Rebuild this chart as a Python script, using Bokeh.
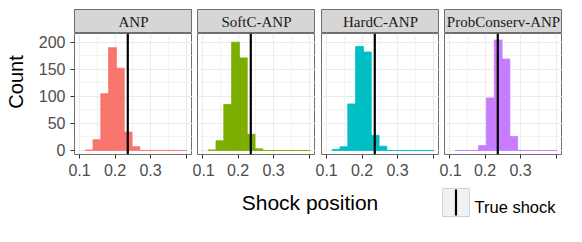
import math
from bokeh.plotting import figure
from bokeh.models import Range1d, FixedTicker, Span, ColumnDataSource
from bokeh.layouts import row, column
from bokeh.embed import file_html
from bokeh.resources import INLINE
from bokeh.core.properties import value

# ---------------- data ----------------
MODELS = ["ANP", "SoftC-ANP", "HardC-ANP", "ProbConserv-ANP"]
COLORS = ["#F8766D", "#7CAE00", "#00BFC4", "#C77CFF"]
BIN_EDGES = [0.116, 0.138, 0.160, 0.182, 0.204, 0.226, 0.248,
             0.270, 0.292, 0.314, 0.336, 0.358, 0.380, 0.402]
COUNTS_ANP = [1, 20, 105, 190, 152, 34, 7, 0, 0, 0, 0, 0, 0]
COUNTS_SOFTC = [1, 18, 85, 200, 171, 30, 3, 0, 0, 0, 0, 0, 0]
COUNTS_HARDC = [2, 7, 86, 192, 182, 28, 8, 0, 0, 0, 0, 0, 0]
COUNTS_PROB = [0, 0, 0, 9, 97, 204, 169, 26, 0, 0, 0, 0, 0]
COUNTS = [COUNTS_ANP, COUNTS_SOFTC, COUNTS_HARDC, COUNTS_PROB]
TRUE_SHOCK = 0.236
X_TICKS = [0.1, 0.2, 0.3, 0.4]
X_TICK_LABELS = ["0.1", "0.2", "0.3", ""]
X_MINOR = [0.15, 0.25, 0.35]
Y_TICKS = [0, 50, 100, 150, 200]
Y_MINOR = [25, 75, 125, 175]
X_TITLE = "Shock position"
Y_TITLE = "Count"
LEGEND_LABEL = "True shock"

# ---------------- layout constants ----------------
X_RANGE = (0.0859, 0.4183)
Y_RANGE = (-7.4, 216.1)
FRAME_W = 118
FRAME_H = 121
GAPS = [40, 5, 6, 5]          # left border of each panel figure
COUNT_W = 34
PANEL_TOP = 33
PANEL_BOTTOM = 30
STRIP_TOP = 9
BOTTOM_H = 42
TOTAL_W = COUNT_W + sum(GAPS) + 4 * FRAME_W
PANEL_ROW_END = PANEL_TOP + FRAME_H + PANEL_BOTTOM

SANS = "Liberation Sans"
SERIF = "Liberation Serif"
BORDER = "#6E6E6E"
GRID = "#EBEBEB"


def base_fig(**kw):
    return figure(output_backend="svg", toolbar_location=None, **kw)


# strips
strips = []
for i, name in enumerate(MODELS):
    left = GAPS[i] + (COUNT_W if i == 0 else 0)
    s = base_fig(width=left + FRAME_W, height=PANEL_TOP,
                 x_range=Range1d(0, 1), y_range=Range1d(0, 1),
                 x_axis_location=None, y_axis_location=None,
                 min_border_left=left, min_border_right=0,
                 min_border_top=STRIP_TOP, min_border_bottom=0)
    s.grid.visible = False
    s.background_fill_color = "#D6D6D6"
    s.outline_line_color = BORDER
    s.outline_line_width = 1
    s.text(x=[0.5], y=[0.5], text=[name], text_font=value(SERIF),
           text_font_size=value("15px"), text_color="#1A1A1A",
           text_align="center", text_baseline="middle")
    strips.append(s)

# count label figure
cf = base_fig(width=COUNT_W, height=FRAME_H + PANEL_BOTTOM,
              x_range=Range1d(0, COUNT_W), y_range=Range1d(PANEL_ROW_END, PANEL_TOP),
              x_axis_location=None, y_axis_location=None,
              min_border_left=0, min_border_right=0, min_border_top=0, min_border_bottom=0)
cf.grid.visible = False
cf.outline_line_color = None
cf.text(x=[15.5], y=[PANEL_TOP + FRAME_H / 2], text=[Y_TITLE], angle=math.pi / 2,
        text_font=value(SANS), text_font_size=value("20px"), text_color="black",
        text_align="center", text_baseline="middle")

panels = []
for i, name in enumerate(MODELS):
    first = i == 0
    p = base_fig(width=GAPS[i] + FRAME_W, height=FRAME_H + PANEL_BOTTOM,
                 x_range=Range1d(*X_RANGE), y_range=Range1d(*Y_RANGE),
                 y_axis_location="left" if first else None,
                 min_border_left=GAPS[i], min_border_right=0,
                 min_border_top=0, min_border_bottom=PANEL_BOTTOM)
    p.outline_line_color = BORDER
    p.outline_line_width = 1
    src = ColumnDataSource(dict(left=BIN_EDGES[:-1], right=BIN_EDGES[1:], top=COUNTS[i]))
    p.quad(left="left", right="right", bottom=0, top="top", source=src,
           fill_color=COLORS[i], line_color=COLORS[i], line_width=0.8)
    p.add_layout(Span(location=TRUE_SHOCK, dimension="height",
                      line_color="black", line_width=2.2))

    xt = FixedTicker(ticks=X_TICKS, minor_ticks=X_MINOR)
    yt = FixedTicker(ticks=Y_TICKS, minor_ticks=Y_MINOR)
    p.xaxis.ticker = xt
    p.xgrid.ticker = xt
    p.ygrid.ticker = yt
    p.xaxis.major_label_overrides = dict(zip(X_TICKS, X_TICK_LABELS))
    axes = [p.xaxis[0]] + ([p.yaxis[0]] if first else [])
    if first:
        p.yaxis.ticker = yt
    for ax in axes:
        ax.axis_line_color = None
        ax.major_tick_out = 4
        ax.major_tick_in = 0
        ax.minor_tick_out = 0
        ax.minor_tick_in = 0
        ax.major_tick_line_color = "#333333"
        ax.major_label_text_color = "#4D4D4D"
        ax.major_label_text_font = SANS
        ax.major_label_text_font_size = "16px"
        ax.major_label_standoff = 5
    for g in (p.xgrid[0], p.ygrid[0]):
        g.grid_line_color = GRID
        g.grid_line_width = 1.1
        g.minor_grid_line_color = GRID
        g.minor_grid_line_width = 0.6
    panels.append(p)

# bottom: x title + legend
bf = base_fig(width=TOTAL_W, height=BOTTOM_H,
              x_range=Range1d(0, TOTAL_W),
              y_range=Range1d(PANEL_ROW_END + BOTTOM_H, PANEL_ROW_END),
              x_axis_location=None, y_axis_location=None,
              min_border_left=0, min_border_right=0, min_border_top=0, min_border_bottom=0)
bf.grid.visible = False
bf.outline_line_color = None
bf.text(x=[309.5], y=[201.7], text=[X_TITLE], text_font=value(SANS),
        text_font_size=value("21px"), text_color="black",
        text_align="center", text_baseline="alphabetic")
bf.quad(left=[442], right=[469], top=[188], bottom=[216],
        fill_color="#F2F2F2", line_color="#D0D0D0", line_width=1)
bf.segment(x0=[455.5], x1=[455.5], y0=[189], y1=[215], line_color="black", line_width=2.2)
bf.text(x=[474], y=[206.5], text=[LEGEND_LABEL], text_font=value(SANS),
        text_font_size=value("16.5px"), text_color="black",
        text_align="left", text_baseline="alphabetic")

layout = column(row(*strips), row(cf, *panels), bf)
open("out.html", "w").write(file_html(layout, INLINE))
